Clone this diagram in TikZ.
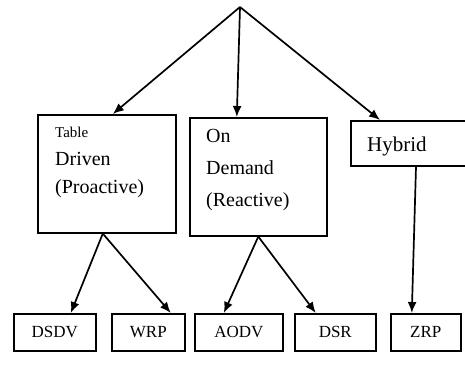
\documentclass[tikz,border=0pt]{standalone}
\usepackage{fontspec}
\setmainfont{Liberation Serif}
\usetikzlibrary{arrows.meta,positioning}

\tikzset{
  box/.style={draw, line width=1.6pt, anchor=north west, inner sep=0pt},
  leaf/.style={box, minimum height=37pt, font=\fontsize{17}{20}\selectfont},
  txt/.style={anchor=north west, align=left, inner sep=0pt},
  arr/.style={-{Latex[length=11pt,width=9pt]}, line width=1.7pt}
}

\begin{document}
\begin{tikzpicture}[x=1pt,y=-1pt]
\useasboundingbox (0,0) rectangle (465,366);

\coordinate (root) at (240,7);

\node[box, minimum width=138pt, minimum height=118pt] (tab) at (37,114) {};
\node[box, minimum width=137pt, minimum height=118pt] (dem) at (189,117) {};
\node[box, minimum width=125pt, minimum height=45pt] (hyb) at (350,120) {};

\node[txt, font=\fontsize{20}{28}\selectfont] (tabtxt) at (55,127) {{\fontsize{15}{18}\selectfont Table}\\Driven\\(Proactive)};
\node[txt, font=\fontsize{20}{32}\selectfont] (demtxt) at (206,129) {On\\Demand\\(Reactive)};
\node[anchor=base west, inner sep=0pt, font=\fontsize{21}{24}\selectfont] (hybtxt) at (367,152) {Hybrid};

\node[leaf, minimum width=82pt] (dsdv) at (13,313) {DSDV};
\node[leaf, minimum width=73pt] (wrp) at (111,313) {WRP};
\node[leaf, minimum width=88pt] (aodv) at (194,313) {AODV};
\node[leaf, minimum width=81pt] (dsr) at (294,313) {DSR};
\node[leaf, minimum width=70pt] (zrp) at (390,313) {ZRP};

\draw[arr] (root) -- ([xshift=6pt]tab.north);
\draw[arr] (root) -- ([xshift=-21.5pt]dem.north);
\draw[arr] (root) -- ([xshift=30pt]hyb.north west);

\draw[arr] ([xshift=-4pt]tab.south) -- ([xshift=16pt]dsdv.north);
\draw[arr] ([xshift=-4pt]tab.south) -- ([xshift=22.5pt]wrp.north);
\draw[arr] (dem.south) -- ([xshift=-15pt]aodv.north);
\draw[arr] (dem.south) -- ([xshift=-19.5pt]dsr.north);
\draw[arr] ([xshift=66pt]hyb.south west) -- ([xshift=-14pt]zrp.north);

\end{tikzpicture}
\end{document}
